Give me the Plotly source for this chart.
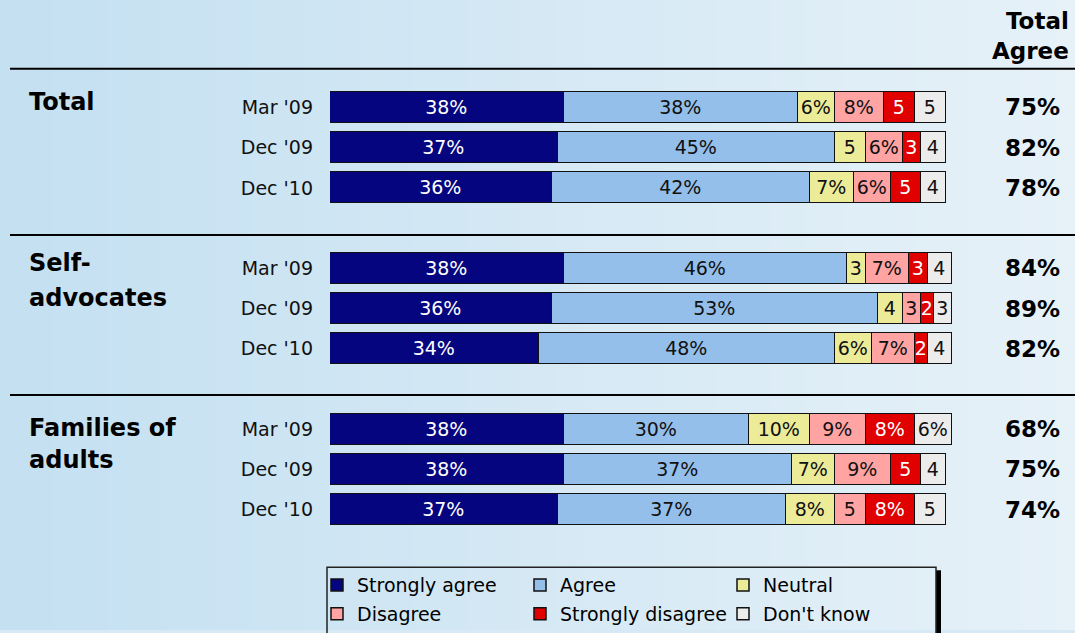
import plotly.graph_objects as go

# ---------------- data ----------------
groups = ["Total", "Self-<br>advocates", "Families of<br>adults"]
periods = ["Mar '09", "Dec '09", "Dec '10"]
categories = ["Strongly agree", "Agree", "Neutral", "Disagree", "Strongly disagree", "Don't know"]

strongly_agree    = [38, 37, 36, 38, 36, 34, 38, 38, 37]
agree             = [38, 45, 42, 46, 53, 48, 30, 37, 37]
neutral           = [6, 5, 7, 3, 4, 6, 10, 7, 8]
disagree          = [8, 6, 6, 7, 3, 7, 9, 9, 5]
strongly_disagree = [5, 3, 5, 3, 2, 2, 8, 5, 8]
dont_know         = [5, 4, 4, 4, 3, 4, 6, 4, 5]
total_agree       = [75, 82, 78, 84, 89, 82, 68, 75, 74]

series = [strongly_agree, agree, neutral, disagree, strongly_disagree, dont_know]
colors = ["#05057f", "#94bfea", "#ecec98", "#ffa3a3", "#e00000", "#ececec"]
text_colors = ["white", "#111111", "#111111", "#111111", "white", "#111111"]

# ---------------- layout helpers ----------------
W, H = 1075, 633
FONT = "DejaVu Sans"
rows_y = [g * 4 + p for g in range(len(groups)) for p in range(len(periods))]
row_labels = [periods[p] for g in range(len(groups)) for p in range(len(periods))]

y0_px, unit_px = 108, 40.4
y_top = -y0_px / unit_px
y_bot = (H - y0_px) / unit_px

x0_px, px_per_pct = 330, 6.16
x_max = 102
x_end_px = x0_px + x_max * px_per_pct

fig = go.Figure()

for i, (name, vals) in enumerate(zip(categories, series)):
    labels = [f"{v}%" if v >= 6 else f"{v}" for v in vals]
    fig.add_trace(go.Bar(
        name=name, y=rows_y, x=vals, orientation="h",
        width=0.77,
        marker=dict(color=colors[i], line=dict(color="#111111", width=1.5)),
        text=labels, textposition="inside", insidetextanchor="middle",
        textangle=0, constraintext="none",
        textfont=dict(family=FONT, size=19, color=text_colors[i]),
        legend="legend" if i < 3 else "legend2",
        hoverinfo="skip",
    ))

# background gradient strips
shapes = []
n_strips = 60
c_left = (196, 224, 241)
c_right = (230, 241, 248)
for k in range(n_strips):
    t = k / (n_strips - 1)
    c = tuple(round(c_left[j] + (c_right[j] - c_left[j]) * t) for j in range(3))
    shapes.append(dict(type="rect", xref="paper", yref="paper",
                       x0=k / n_strips, x1=(k + 1) / n_strips + 0.002, y0=0, y1=1,
                       fillcolor=f"rgb{c}", line=dict(width=0), layer="below"))

# separator lines
for ypx in [69, 236, 397]:
    shapes.append(dict(type="line", xref="paper", yref="paper",
                       x0=10 / W, x1=1, y0=1 - ypx / H, y1=1 - ypx / H,
                       line=dict(color="black", width=2)))

# legend box + shadow
shapes.append(dict(type="rect", xref="paper", yref="paper",
                   x0=936 / W, x1=941 / W, y0=-0.01, y1=1 - 573 / H,
                   fillcolor="black", line=dict(width=0)))
shapes.append(dict(type="rect", xref="paper", yref="paper",
                   x0=327 / W, x1=936 / W, y0=-0.01, y1=1 - 570 / H,
                   fillcolor="rgba(0,0,0,0)", line=dict(color="#222222", width=1.5)))

annotations = []
# header
annotations.append(dict(text="<b>Total<br>Agree</b>", xref="paper", yref="paper",
                        x=1071 / W, y=1 - 36 / H, xanchor="right", yanchor="middle",
                        align="right", showarrow=False,
                        font=dict(family=FONT, size=23, color="black")))
# group labels (one annotation per text line)
group_top_px = [86, 248, 414]
line_gap_px = [0, 35, 32]
for g, name in enumerate(groups):
    for li, line in enumerate(name.split("<br>")):
        annotations.append(dict(text=f"<b>{line}</b>", xref="paper", yref="paper",
                                x=27 / W, y=1 - (group_top_px[g] + li * line_gap_px[g]) / H,
                                xanchor="left", yanchor="top", align="left",
                                showarrow=False,
                                font=dict(family=FONT, size=24, color="black")))
# total agree column
for yv, ta in zip(rows_y, total_agree):
    annotations.append(dict(text=f"<b>{ta}%</b>", xref="paper", yref="y",
                            x=1062 / W, y=yv, xanchor="right", yanchor="middle",
                            showarrow=False,
                            font=dict(family=FONT, size=23, color="black")))

fig.update_layout(
    width=W, height=H,
    margin=dict(l=0, r=0, t=0, b=0),
    paper_bgcolor="#d6e9f4", plot_bgcolor="rgba(0,0,0,0)",
    barmode="stack",
    bargap=0,
    shapes=shapes,
    annotations=annotations,
    xaxis=dict(domain=[x0_px / W, x_end_px / W], range=[0, x_max],
               showgrid=False, zeroline=False, showticklabels=False, showline=False),
    yaxis=dict(range=[y_bot, y_top], domain=[0, 1], showgrid=False, zeroline=False,
               showline=False, tickmode="array", tickvals=rows_y, ticktext=row_labels,
               ticks="", ticklabelstandoff=16,
               tickfont=dict(family=FONT, size=19, color="#111111")),
    legend=dict(orientation="h", x=317 / W, xanchor="left", y=1 - 588 / H, yanchor="middle",
                entrywidth=158, bgcolor="rgba(0,0,0,0)", borderwidth=0,
                font=dict(family=FONT, size=19, color="black"), traceorder="normal"),
    legend2=dict(orientation="h", x=317 / W, xanchor="left", y=1 - 617 / H, yanchor="middle",
                 entrywidth=158, bgcolor="rgba(0,0,0,0)", borderwidth=0,
                 font=dict(family=FONT, size=19, color="black"), traceorder="normal"),
    showlegend=True,
)

fig.write_html(
    "out.html",
    config={"displayModeBar": False},
    post_script="document.body.style.margin='0';document.body.style.overflow='hidden';",
)
